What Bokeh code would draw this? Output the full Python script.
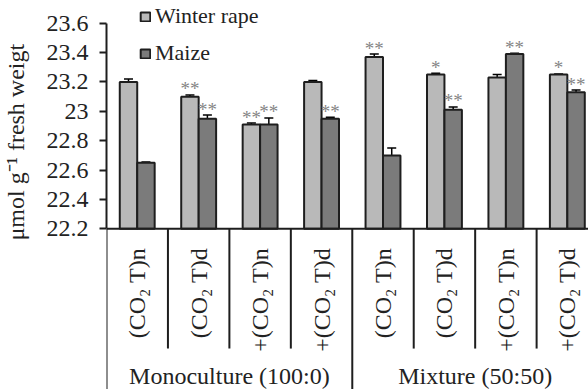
from bokeh.plotting import figure
from bokeh.models import (ColumnDataSource, Range1d, FixedTicker, Whisker, TeeHead,
                          Legend, LegendItem, Title)
from bokeh.core.properties import value
from bokeh.embed import file_html
from bokeh.resources import INLINE

categories = ["(CO₂ T)n", "(CO₂ T)d", "+(CO₂ T)n", "+(CO₂ T)d",
              "(CO₂ T)n", "(CO₂ T)d", "+(CO₂ T)n", "+(CO₂ T)d"]
groups = ["Monoculture (100:0)", "Mixture (50:50)"]
group_size = 4
winter_rape = [23.20, 23.10, 22.91, 23.20, 23.37, 23.25, 23.23, 23.25]
maize = [22.65, 22.95, 22.91, 22.95, 22.70, 23.01, 23.39, 23.13]
err_wr = [0.02, 0.012, 0.01, 0.01, 0.02, 0.01, 0.02, 0.005]
err_mz = [0.005, 0.025, 0.045, 0.01, 0.05, 0.02, 0.005, 0.015]
sig_wr = ["", "**", "**", "", "**", "*", "", "*"]
sig_mz = ["", "**", "**", "**", "", "**", "**", "**"]
y_ticks = [22.2, 22.4, 22.6, 22.8, 23.0, 23.2, 23.4, 23.6]
y_tick_labels = ["22.2", "22.4", "22.6", "22.8", "23", "23.2", "23.4", "23.6"]
y_label = "μmol g⁻¹ fresh weigt"

FONT = "Liberation Serif"
TXT = "#222222"
WR_COLOR = "#b9b9b9"
MZ_COLOR = "#7b7b7b"
EDGE = "#1e1e1e"
W, H = 588, 389
LEFT = 104
CAT_PX = 61.7               # pixels per category
X_END = (W - LEFT) / CAT_PX
BAR_W = 0.284
PPU = 146.9                 # pixels per y unit
Y_TOP = 23.6 + 22.7 / PPU
Y_BOT = Y_TOP - H / PPU
BASE = y_ticks[0]

n = len(categories)
centers = [i + 0.5 for i in range(n)]
x_wr = [c - BAR_W / 2 for c in centers]
x_mz = [c + BAR_W / 2 for c in centers]

src_wr = ColumnDataSource(dict(x=x_wr, top=winter_rape,
                               upper=[v + e for v, e in zip(winter_rape, err_wr)],
                               lower=[v - e for v, e in zip(winter_rape, err_wr)],
                               sig=sig_wr))
src_mz = ColumnDataSource(dict(x=x_mz, top=maize,
                               upper=[v + e for v, e in zip(maize, err_mz)],
                               lower=[v - e for v, e in zip(maize, err_mz)],
                               sig=sig_mz))

p = figure(width=W, height=H, output_backend="svg", toolbar_location=None,
           x_range=Range1d(0, X_END), y_range=Range1d(Y_BOT, Y_TOP),
           x_axis_location=None, min_border_left=LEFT, min_border_right=0,
           min_border_top=0, min_border_bottom=0)
p.outline_line_color = None
p.xgrid.visible = False
p.ygrid.visible = False

r_wr = p.vbar(x="x", top="top", bottom=BASE, width=BAR_W, source=src_wr,
              fill_color=WR_COLOR, line_color=EDGE, line_width=2)
r_mz = p.vbar(x="x", top="top", bottom=BASE, width=BAR_W, source=src_mz,
              fill_color=MZ_COLOR, line_color=EDGE, line_width=2)

for src in (src_wr, src_mz):
    p.add_layout(Whisker(base="x", upper="upper", lower="lower", source=src,
                         line_color="black", line_width=1.5,
                         upper_head=TeeHead(size=9, line_width=1.5, line_color="black"),
                         lower_head=TeeHead(size=9, line_width=1.5, line_color="black")))
    p.text(x="x", y="upper", text="sig", source=src, text_align="center",
           text_baseline="alphabetic", y_offset=-6, text_color="#858585",
           text_font=value(FONT), text_font_size="19px")

yax = p.yaxis[0]
yax.ticker = FixedTicker(ticks=y_ticks)
yax.major_label_overrides = dict(zip(y_ticks, y_tick_labels))
yax.bounds = (y_ticks[0], y_ticks[-1])
yax.axis_line_width = 2
yax.axis_line_color = EDGE
yax.major_tick_line_width = 2
yax.major_tick_line_color = EDGE
yax.major_tick_out = 7
yax.major_tick_in = 0
yax.minor_tick_line_color = None
yax.major_label_standoff = 11
yax.major_label_text_font = FONT
yax.major_label_text_font_size = "24px"
yax.major_label_text_color = TXT
# blank axis label used only as a spacer between tick labels and the title
yax.axis_label = " "
yax.axis_label_text_font_size = "1px"
yax.axis_label_standoff = 11

p.add_layout(Title(text=y_label, align="left", offset=149, standoff=0,
                   text_font=FONT, text_font_size="24px",
                   text_font_style="normal", text_color=TXT), "left")

legend = Legend(items=[LegendItem(label="Winter rape", renderers=[r_wr]),
                       LegendItem(label="Maize", renderers=[r_mz])],
                location=(33, H - 66), orientation="vertical",
                padding=0, margin=0, spacing=11,
                glyph_width=12, glyph_height=11, label_standoff=4,
                label_text_font=FONT, label_text_font_size="22px",
                label_text_color=TXT,
                border_line_color=None, background_fill_alpha=0)
p.add_layout(legend)

# category axis drawn below the baseline
bounds = list(range(n + 1))
sep_end = [Y_BOT if b % group_size == 0 else BASE - 119.7 / PPU for b in bounds]
p.segment(x0=bounds, y0=[BASE] * len(bounds), x1=bounds, y1=sep_end,
          line_color=EDGE, line_width=2)
p.segment(x0=[0], y0=[BASE], x1=[n], y1=[BASE], line_color=EDGE, line_width=2)
p.text(x=centers, y=[BASE - 19 / PPU] * n, text=categories, angle=1.5708,
       text_align="right", text_baseline="middle", text_color=TXT,
       text_font=value(FONT), text_font_size="24px")
g_centers = [group_size * (k + 0.5) for k in range(len(groups))]
p.text(x=g_centers, y=[BASE - 147.5 / PPU] * len(groups), text=groups,
       text_align="center", text_baseline="middle", text_color=TXT,
       text_font=value(FONT), text_font_size="24px")

open("out.html", "w").write(file_html(p, INLINE))
